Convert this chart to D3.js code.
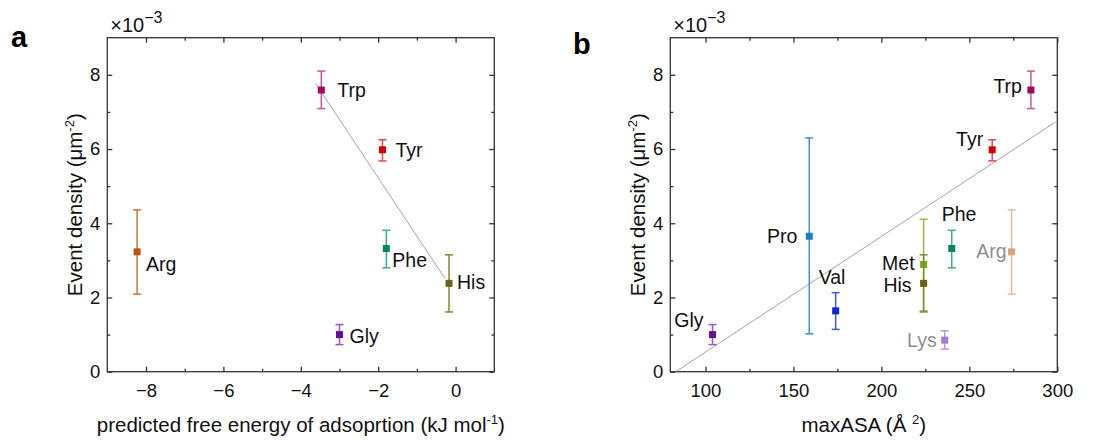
<!DOCTYPE html>
<html>
<head>
<meta charset="utf-8">
<script src="https://cdn.jsdelivr.net/npm/d3@7"></script>
<style>
  body { margin: 0; background: #fff; }
  svg { font-family: "Liberation Sans", Arial, sans-serif; }
  .axis path, .axis line { stroke: #333; stroke-width: 1.3; }
  .axis text { font-size: 18px; fill: #111; }
</style>
</head>
<body>
<div id="chart"></div>
<script>
// panel a: event density vs predicted free energy of adsorption
var residuesA = ["Trp", "Tyr", "Phe", "His", "Gly", "Arg"];
var energyA = [-3.47, -1.89, -1.79, -0.17, -3.0, -8.23];
var densityA = [7.59, 5.98, 3.32, 2.38, 1.0, 3.23];
var upperA = [8.1, 6.25, 3.81, 3.15, 1.27, 4.36];
var lowerA = [7.09, 5.68, 2.8, 1.61, 0.73, 2.09];
var fitA = [[-3.62, 7.77], [-0.28, 2.52]];

// panel b: event density vs maxASA
var residuesB = ["Gly", "Pro", "Val", "Met", "His", "Phe", "Lys", "Tyr", "Arg", "Trp"];
var asaB = [104, 159, 174, 224, 224, 240, 236, 263, 274, 285];
var densityB = [1.0, 3.65, 1.64, 2.89, 2.38, 3.32, 0.85, 5.98, 3.23, 7.59];
var upperB = [1.27, 6.3, 2.13, 4.11, 3.15, 3.81, 1.1, 6.25, 4.36, 8.1];
var lowerB = [0.73, 1.02, 1.14, 1.64, 1.61, 2.8, 0.61, 5.68, 2.09, 7.09];
var fitB = [[83.1, 0], [299, 6.73]];

var yTicks = [0, 2, 4, 6, 8];
var yMinor = [1, 3, 5, 7];
var xTicksA = [-8, -6, -4, -2, 0];
var xMinorA = [-7, -5, -3, -1];
var xTicksB = [100, 150, 200, 250, 300];
var xMinorB = [125, 175, 225, 275];

// colours: marker / error bar
var markerCol = {
  Trp: "#9e0a5e", Tyr: "#d40000", Phe: "#00875e", His: "#6b6513",
  Gly: "#6c0c9c", Arg: "#b9560f", Pro: "#1b7fc0", Val: "#0a28cc",
  Met: "#74ad10", Lys: "#a070cc"
};
var errCol = {
  Trp: "#c9559a", Tyr: "#e54848", Phe: "#3aae88", His: "#8a8433",
  Gly: "#9a55c6", Arg: "#cc7533", Pro: "#3b93d0", Val: "#3d58df",
  Met: "#8fc038", Lys: "#b590dc"
};
var fadedB = { Arg: ["#dba27a", "#e8b994"], Lys: ["#a27ad0", "#b898dc"] };

// label placement (px offsets from the marker)
var labelA = {
  Trp: [16, 0, "start"], Tyr: [13, 0, "start"], Phe: [6, 12, "start"],
  His: [8, -1, "start"], Gly: [10, 2, "start"], Arg: [9, 12, "start"]
};
var labelB = {
  Gly: [-9, -14, "end"], Pro: [-12, 0, "end"], Val: [-17, -34, "start"],
  Met: [-9, -1, "end"], His: [-12, 2, "end"], Phe: [-10, -34, "start"],
  Lys: [-8, 0, "end"], Tyr: [-9, -11, "end"], Arg: [-5, -1, "end"],
  Trp: [-9, -4, "end"]
};

var W = 1114, H = 440;
var svg = d3.select("#chart").append("svg").attr("width", W).attr("height", H);

function panel(opt) {
  var left = opt.left, top = 37.7, w = 387, h = 334;
  var g = svg.append("g").attr("transform", "translate(" + left + "," + top + ")");
  var x = d3.scaleLinear().domain(opt.xDomain).range([0, w]);
  var y = d3.scaleLinear().domain([0, 9]).range([h, 0]);

  function ax(gen, tr, vals, size, labels) {
    var a = gen.tickValues(vals).tickSize(-size).tickPadding(0);
    if (!labels) a.tickFormat("");
    var s = g.append("g").attr("class", "axis").attr("transform", tr).call(a);
    s.select(".domain").remove();
    return s;
  }
  // major + minor ticks on all four sides, pointing inward
  var bx = ax(d3.axisBottom(x), "translate(0," + h + ")", opt.xTicks, 5, true);
  bx.selectAll("text").attr("y", 12);
  ax(d3.axisBottom(x), "translate(0," + h + ")", opt.xMinor, 3, false);
  ax(d3.axisTop(x), "translate(0,0)", opt.xTicks, 5, false);
  ax(d3.axisTop(x), "translate(0,0)", opt.xMinor, 3, false);
  var ly = ax(d3.axisLeft(y), "translate(0,0)", yTicks, 5, true);
  ly.selectAll("text").attr("x", -7);
  ax(d3.axisLeft(y), "translate(0,0)", yMinor, 3, false);
  ax(d3.axisRight(y), "translate(" + w + ",0)", yTicks, 5, false);
  ax(d3.axisRight(y), "translate(" + w + ",0)", yMinor, 3, false);
  g.selectAll(".axis text").style("font-size", "18.5px");

  g.append("rect").attr("width", w).attr("height", h)
    .attr("fill", "none").attr("stroke", "#333").attr("stroke-width", 1.3);

  // linear fit
  g.append("line")
    .attr("x1", x(opt.fit[0][0])).attr("y1", y(opt.fit[0][1]))
    .attr("x2", x(opt.fit[1][0])).attr("y2", y(opt.fit[1][1]))
    .attr("stroke", "#9a9a9a").attr("stroke-width", 0.9);

  var data = opt.names.map(function(n, i) {
    return { name: n, x: opt.xs[i], y: opt.ys[i], hi: opt.hi[i], lo: opt.lo[i] };
  });
  var pts = g.selectAll(".pt").data(data).enter().append("g").attr("class", "pt");
  function ec(d) { return opt.faded[d.name] ? opt.faded[d.name][1] : errCol[d.name]; }
  function mc(d) { return opt.faded[d.name] ? opt.faded[d.name][0] : markerCol[d.name]; }
  pts.append("line")
    .attr("x1", function(d) { return x(d.x); }).attr("x2", function(d) { return x(d.x); })
    .attr("y1", function(d) { return y(d.hi); }).attr("y2", function(d) { return y(d.lo); })
    .attr("stroke", ec).attr("stroke-width", 1.5);
  ["hi", "lo"].forEach(function(k) {
    pts.append("line")
      .attr("x1", function(d) { return x(d.x) - 4; }).attr("x2", function(d) { return x(d.x) + 4; })
      .attr("y1", function(d) { return y(d[k]); }).attr("y2", function(d) { return y(d[k]); })
      .attr("stroke", ec).attr("stroke-width", 1.5);
  });
  pts.append("rect")
    .attr("x", function(d) { return x(d.x) - 3.5; })
    .attr("y", function(d) { return y(d.y) - 3.5; })
    .attr("width", 7).attr("height", 7)
    .attr("fill", mc);
  pts.append("text")
    .attr("x", function(d) { return x(d.x) + opt.labels[d.name][0]; })
    .attr("y", function(d) { return y(d.y) + opt.labels[d.name][1]; })
    .attr("dy", "0.35em")
    .attr("text-anchor", function(d) { return opt.labels[d.name][2]; })
    .attr("fill", function(d) { return opt.faded[d.name] ? "#8e8e8e" : "#111"; })
    .style("font-size", "19.5px")
    .text(function(d) { return d.name; });

  // exponent label
  var ex = g.append("text").attr("x", 3).attr("y", -6).style("font-size", "20px").attr("fill", "#111");
  ex.append("tspan").text("\u00d710");
  ex.append("tspan").attr("dy", -9).style("font-size", "16px").text("\u22123");

  // axis titles
  var yt = svg.append("text")
    .attr("transform", "translate(" + opt.yTitleX + "," + (top + h / 2) + ") rotate(-90)")
    .attr("text-anchor", "middle").style("font-size", "20.5px").attr("fill", "#111");
  yt.append("tspan").text("Event density (\u03bcm");
  yt.append("tspan").attr("dy", -8).style("font-size", "13px").text("-2");
  yt.append("tspan").attr("dy", 8).text(")");

  var xt = svg.append("text")
    .attr("x", left + w / 2).attr("y", 432)
    .attr("text-anchor", "middle").style("font-size", "20.5px").attr("fill", "#111");
  xt.append("tspan").text(opt.xTitle[0]);
  xt.append("tspan").attr("dy", -8).style("font-size", "13px").text(opt.xTitle[1]);
  xt.append("tspan").attr("dy", 8).text(opt.xTitle[2]);

  svg.append("text").attr("x", opt.tag[1]).attr("y", opt.tag[2])
    .style("font-size", "29px").style("font-weight", "bold").attr("fill", "#000")
    .text(opt.tag[0]);
}

panel({
  left: 107.3, xDomain: [-9, 1], xTicks: xTicksA, xMinor: xMinorA,
  names: residuesA, xs: energyA, ys: densityA, hi: upperA, lo: lowerA,
  fit: fitA, labels: labelA, faded: {}, yTitleX: 82,
  xTitle: ["predicted free energy of adsoprtion (kJ mol", "-1", ")"],
  tag: ["a", 11, 47]
});
panel({
  left: 670.3, xDomain: [80, 300], xTicks: xTicksB, xMinor: xMinorB,
  names: residuesB, xs: asaB, ys: densityB, hi: upperB, lo: lowerB,
  fit: fitB, labels: labelB, faded: fadedB, yTitleX: 645,
  xTitle: ["maxASA (\u00c5 ", "2", ")"],
  tag: ["b", 573, 54]
});
</script>
</body>
</html>
